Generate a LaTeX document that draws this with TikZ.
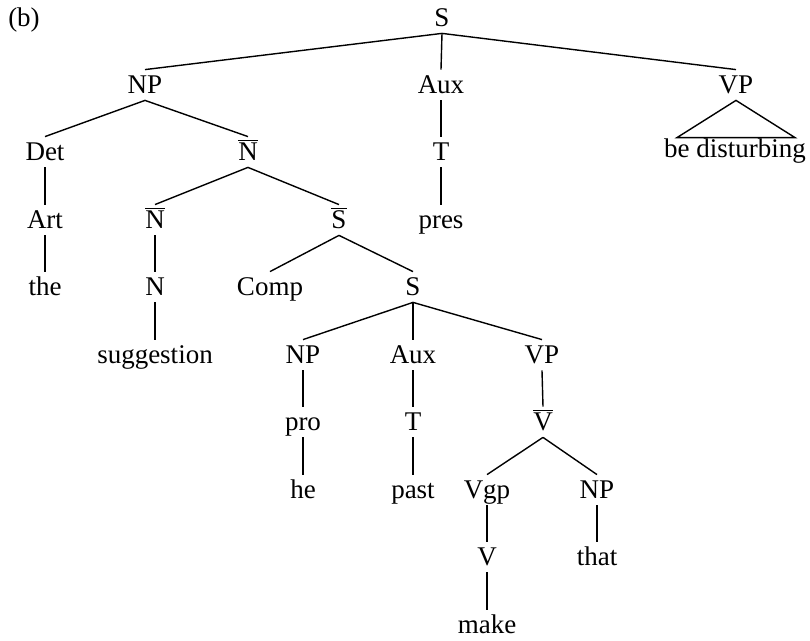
\documentclass[tikz,border=0pt]{standalone}
\usepackage{fontspec}
\setmainfont{Liberation Serif}
\usetikzlibrary{calc}
% category label with a bar over it
\newcommand\barcat[1]{\ensuremath{\overline{\mbox{#1}}}}
\tikzset{
  cat/.style={inner sep=0pt, minimum height=15pt, text height=10.5pt, text depth=1.5pt,
    font=\fontsize{13.5}{15}\selectfont},
  branch/.style={line width=0.7pt},
}
\begin{document}
\begin{tikzpicture}[x=0.5pt,y=-0.5pt]
\useasboundingbox (0,0) rectangle (810,641);
\node[cat] (lab) at (24,18) {(b)};
% top level
\node[cat] (S0) at (442,18) {S};
\node[cat] (NP0) at (145,85) {NP};
\node[cat] (Aux0) at (441,85) {Aux};
\node[cat] (VP0) at (736,85) {VP};
\node[cat] (bd) at (735,149) {be disturbing};
% subject noun phrase
\node[cat] (Det) at (45,152) {Det};
\node[cat] (Nb1) at (248,152) {\barcat{N}};
\node[cat] (T0) at (441,152) {T};
\node[cat] (Art) at (45,220) {Art};
\node[cat] (Nb2) at (155,220) {\barcat{N}};
\node[cat] (Sb) at (339,220) {\barcat{S}};
\node[cat] (pres) at (441,220) {pres};
\node[cat] (the) at (45,287) {the};
\node[cat] (N) at (155,287) {N};
\node[cat] (Comp) at (270,287) {Comp};
\node[cat] (S1) at (413,287) {S};
\node[cat] (sugg) at (155,355) {suggestion};
% embedded clause
\node[cat] (NP1) at (303,355) {NP};
\node[cat] (Aux1) at (413,355) {Aux};
\node[cat] (VP1) at (542,355) {VP};
\node[cat] (pro) at (303,422) {pro};
\node[cat] (T1) at (413,422) {T};
\node[cat] (Vb) at (543,422) {\barcat{V}};
\node[cat] (he) at (303,490) {he};
\node[cat] (past) at (413,490) {past};
\node[cat] (Vgp) at (487,490) {Vgp};
\node[cat] (NP2) at (597,490) {NP};
\node[cat] (V) at (487,557) {V};
\node[cat] (that) at (597,557) {that};
\node[cat] (make) at (487,625) {make};

% branches
\draw[branch] (S0.south) -- (NP0.north);
\draw[branch] (S0.south) -- (Aux0.north);
\draw[branch] (S0.south) -- (VP0.north);
\draw[branch] (VP0.south) -- ($(bd.north)+(-58,4)$) -- ($(bd.north)+(60,4)$) -- cycle;
\draw[branch] (NP0.south) -- (Det.north);
\draw[branch] (NP0.south) -- (Nb1.north);
\draw[branch] (Aux0.south) -- (T0.north);
\draw[branch] (T0.south) -- (pres.north);
\draw[branch] (Det.south) -- (Art.north);
\draw[branch] (Art.south) -- (the.north);
\draw[branch] (Nb1.south) -- (Nb2.north);
\draw[branch] (Nb1.south) -- (Sb.north);
\draw[branch] (Nb2.south) -- (N.north);
\draw[branch] (N.south) -- (sugg.north);
\draw[branch] (Sb.south) -- (Comp.north);
\draw[branch] (Sb.south) -- (S1.north);
\draw[branch] (S1.south) -- (NP1.north);
\draw[branch] (S1.south) -- (Aux1.north);
\draw[branch] (S1.south) -- (VP1.north);
\draw[branch] (NP1.south) -- (pro.north);
\draw[branch] (pro.south) -- (he.north);
\draw[branch] (Aux1.south) -- (T1.north);
\draw[branch] (T1.south) -- (past.north);
\draw[branch] (VP1.south) -- (Vb.north);
\draw[branch] (Vb.south) -- (Vgp.north);
\draw[branch] (Vb.south) -- (NP2.north);
\draw[branch] (Vgp.south) -- (V.north);
\draw[branch] (V.south) -- (make.north);
\draw[branch] (NP2.south) -- (that.north);
\end{tikzpicture}
\end{document}
